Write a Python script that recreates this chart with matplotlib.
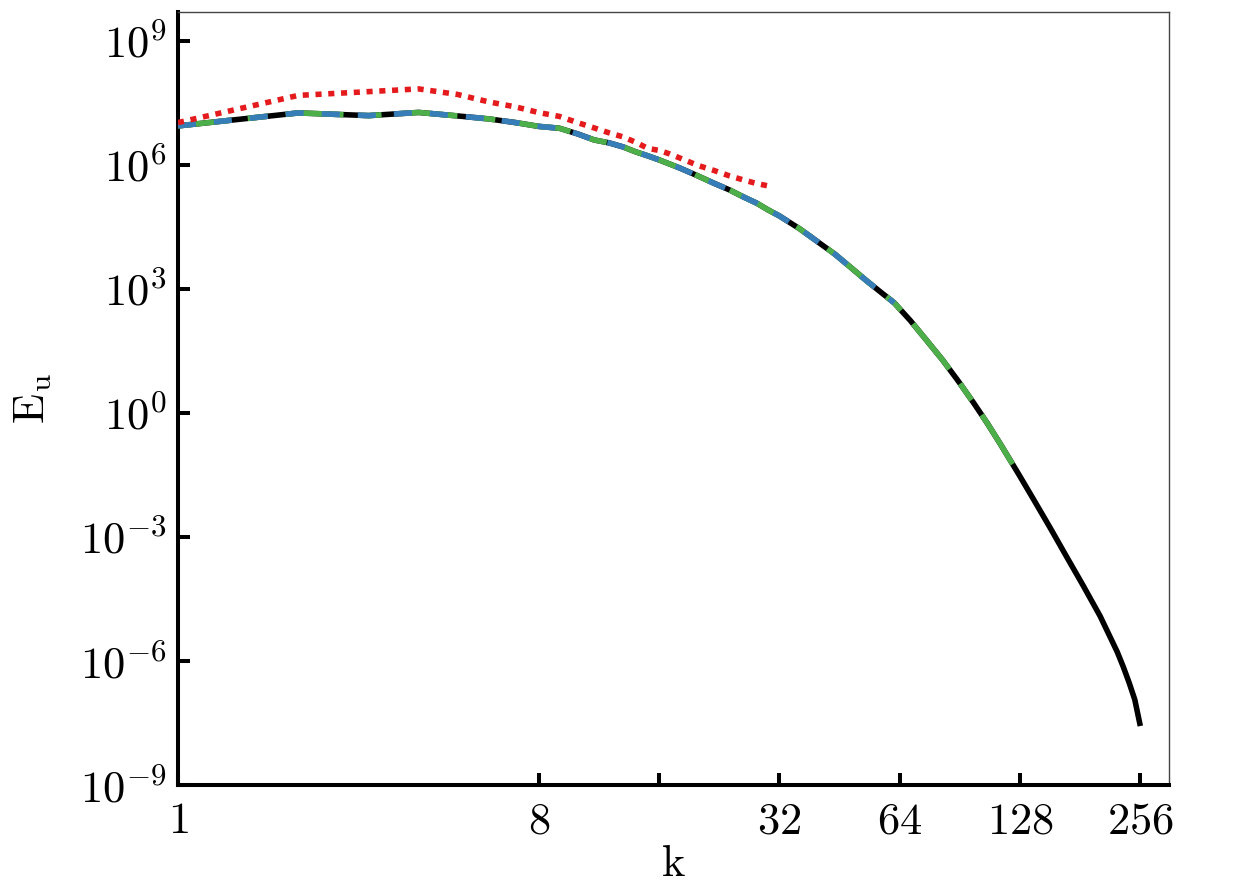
import numpy as np
import matplotlib
matplotlib.use("Agg")
import matplotlib.pyplot as plt

plt.rcParams['mathtext.fontset'] = 'cm'
plt.rcParams['font.family'] = ['DejaVu Serif']
plt.rcParams['lines.scale_dashes'] = False

# ---- data ----
k_black = [1, 2, 3, 4, 5, 6, 7, 8, 9, 10, 11, 12, 13, 14, 15, 16, 18, 20, 22, 24, 26, 28, 30, 32,
           36, 40, 44, 48, 53, 58, 62, 68, 75, 82, 90, 98, 106, 114, 121, 127, 138, 152, 168,
           184, 203, 212, 224, 232, 240, 248, 256]
log10E_black = [6.936, 7.250, 7.185, 7.262, 7.178, 7.105, 7.016, 6.924, 6.880, 6.743, 6.597, 6.525,
                6.428, 6.307, 6.211, 6.114, 5.920, 5.727, 5.545, 5.388, 5.219, 5.074, 4.904, 4.759,
                4.445, 4.126, 3.838, 3.533, 3.183, 2.880, 2.658, 2.232, 1.732, 1.272, 0.745, 0.237,
                -0.254, -0.738, -1.149, -1.485, -2.075, -2.769, -3.507, -4.172, -4.914, -5.294,
                -5.777, -6.140, -6.525, -6.938, -7.574]

k_green = [1, 2, 3, 4, 5, 6, 7, 8, 9, 10, 11, 12, 13, 14, 15, 16, 18, 20, 22, 24, 26, 28, 30, 32,
           36, 40, 44, 48, 53, 58, 62, 68, 75, 82, 90, 98, 106, 114, 121, 127]
log10E_green = [6.936, 7.250, 7.185, 7.262, 7.178, 7.105, 7.016, 6.924, 6.880, 6.743, 6.597, 6.525,
                6.428, 6.307, 6.211, 6.114, 5.920, 5.727, 5.545, 5.388, 5.219, 5.074, 4.904, 4.759,
                4.445, 4.126, 3.838, 3.533, 3.183, 2.880, 2.658, 2.232, 1.732, 1.272, 0.745, 0.237,
                -0.254, -0.738, -1.149, -1.485]

k_blue = [1, 2, 3, 4, 5, 6, 7, 8, 9, 10, 11, 12, 13, 14, 15, 16, 18, 20, 22, 24, 26, 28, 30, 32,
          36, 40, 44, 48, 53, 58, 62]
log10E_blue = [6.936, 7.250, 7.185, 7.262, 7.178, 7.105, 7.016, 6.924, 6.880, 6.743, 6.597, 6.525,
               6.428, 6.307, 6.211, 6.114, 5.920, 5.727, 5.545, 5.388, 5.219, 5.074, 4.904, 4.759,
               4.445, 4.126, 3.838, 3.533, 3.183, 2.880, 2.658]

k_red = [1, 2, 3, 4, 5, 6, 7, 8, 9, 10, 11, 12, 13, 14, 15, 16, 17, 18, 20, 22, 24, 26, 28, 30]
log10E_red = [7.016, 7.674, 7.765, 7.831, 7.698, 7.516, 7.395, 7.258, 7.166, 7.016, 6.888, 6.767,
              6.670, 6.537, 6.392, 6.343, 6.259, 6.162, 5.981, 5.855, 5.727, 5.630, 5.545, 5.485]

x_ticks = [1, 8, 16, 32, 64, 128, 256]
x_ticklabels = ['1', '8', '', '32', '64', '128', '256']
y_exponents = [-9, -6, -3, 0, 3, 6, 9]

# ---- figure ----
fig = plt.figure(figsize=(12.4, 8.86), dpi=100)
ax = fig.add_axes([178/1240, 1 - 785/886, (1169 - 178)/1240, (785 - 12)/886])

lw = 4.0
ax.plot(k_black, 10.0 ** np.array(log10E_black), color='black', lw=lw,
        solid_capstyle='butt', solid_joinstyle='round', zorder=2)
ax.plot(k_green, 10.0 ** np.array(log10E_green), color='#4daf4a', lw=lw,
        linestyle=(4.3, (41.8, 13.0, 14.4, 13.0)), zorder=3)
ax.plot(k_blue, 10.0 ** np.array(log10E_blue), color='#377eb8', lw=lw,
        linestyle=(0, (13.0, 13.0)), zorder=4)
ax.plot(k_red, 10.0 ** np.array(log10E_red), color='#e41a1c', lw=4.0,
        linestyle=(0, (4.4, 4.8)), zorder=5)

ax.set_xscale('log', base=2)
ax.set_yscale('log')
ax.set_xlim(1, 302)
ax.set_ylim(1e-9, 4.9e9)

ax.set_xticks(x_ticks)
ax.set_xticklabels(['$%s$' % s if s else '' for s in x_ticklabels])
ax.set_yticks([10.0 ** e for e in y_exponents])
ax.set_yticklabels(['$10^{%d}$' % e for e in y_exponents])
ax.minorticks_off()

ax.tick_params(axis='both', which='major', direction='in', length=8.5, width=2.9,
               labelsize=32, top=False, right=False, color='black')
ax.tick_params(axis='x', pad=10)
ax.tick_params(axis='y', pad=8)

for side in ['left', 'bottom']:
    ax.spines[side].set_linewidth(2.9)
    ax.spines[side].set_color('black')
for side in ['top', 'right']:
    ax.spines[side].set_linewidth(1.0)
    ax.spines[side].set_color('#444444')

ax.set_xlabel(r'$\mathrm{k}$', fontsize=32, labelpad=0)
ax.set_ylabel(r'$\mathrm{E_u}$', fontsize=32, labelpad=19)

fig.savefig('out.png', dpi=100)
